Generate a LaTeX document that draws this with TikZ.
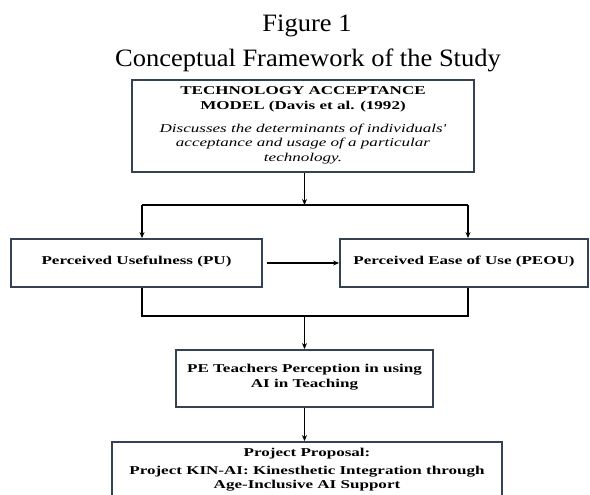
\documentclass[tikz,border=0pt]{standalone}
\usepackage{fontspec}
\setmainfont{Liberation Serif}
\newfontfamily\bxf[FakeStretch=1.42]{Liberation Serif}
\newfontfamily\ttlf[FakeStretch=1.06]{Liberation Serif}
\usetikzlibrary{arrows.meta}
\definecolor{boxc}{RGB}{52,66,82}
\begin{document}
\begin{tikzpicture}[x=1pt,y=-1pt,
  box/.style={draw=boxc,line width=1.8pt,rectangle,inner sep=0pt},
  txt/.style={font=\bxf\fontsize{12}{14.5}\selectfont\bfseries,align=center,inner sep=0pt,anchor=base},
  ttl/.style={font=\ttlf\fontsize{25}{30}\selectfont,anchor=base,inner sep=0pt},
  arr/.style={line width=1.4pt,-{Stealth[length=6pt,width=5pt]}},
  ln/.style={line width=1.4pt}]
\useasboundingbox (0,0) rectangle (590,495);
\clip (0,0) rectangle (590,495);
% titles
\node[ttl] (fig) at (307,32) {Figure 1};
\node[ttl] (cap) at (308,67) {Conceptual Framework of the Study};
% boxes
\node[box,minimum width=342pt,minimum height=92pt] (tam) at (303,126) {};
\node[box,minimum width=251pt,minimum height=48pt] (pu) at (136.5,263) {};
\node[box,minimum width=248pt,minimum height=48pt] (peou) at (464,263) {};
\node[box,minimum width=257pt,minimum height=57pt] (pe) at (304.5,378.5) {};
\node[box,minimum width=390pt,minimum height=70pt] (proj) at (307,477) {};
% texts (base = baseline of the last line)
\node[txt] (tamt1) at (303,109.5) {TECHNOLOGY ACCEPTANCE\\MODEL (Davis et al. (1992)};
\node[txt,font=\bxf\fontsize{12}{14.5}\selectfont\itshape] (tamt2) at (303,161)
  {Discusses the determinants of individuals'\\acceptance and usage of a particular\\technology.};
\node[txt] (put) at (136.5,264) {Perceived Usefulness (PU)};
\node[txt] (peout) at (464,264) {Perceived Ease of Use (PEOU)};
\node[txt,font=\bxf\fontsize{12}{15}\selectfont\bfseries] (pet) at (304.5,387) {PE Teachers Perception in using\\AI in Teaching};
\node[txt] (projt1) at (307,456) {Project Proposal:};
\node[txt,font=\bxf\fontsize{12}{13.5}\selectfont\bfseries] (projt2) at (307,488)
  {Project KIN-AI: Kinesthetic Integration through\\Age-Inclusive AI Support};
% junctions
\coordinate (jl) at (142,205);
\coordinate (jr) at (468,205);
\coordinate (bl) at (142,316);
\coordinate (br) at (468,316);
% connectors
\draw[arr] (tam.south -| pe.north) -- (pe.north |- jl);
\draw[ln] (jl) -- (jr);
\draw[arr] (jl) -- (jl |- pu.north);
\draw[arr] (jr) -- (jr |- peou.north);
\draw[arr,shorten <=4pt] (pu.east) -- (peou.west);
\draw[ln] (bl |- pu.south) -- (bl) -- (br) -- (br |- peou.south);
\draw[arr] (pe.north |- bl) -- (pe.north);
\draw[arr] (pe.south) -- (pe.south |- proj.north);
\end{tikzpicture}
\end{document}
